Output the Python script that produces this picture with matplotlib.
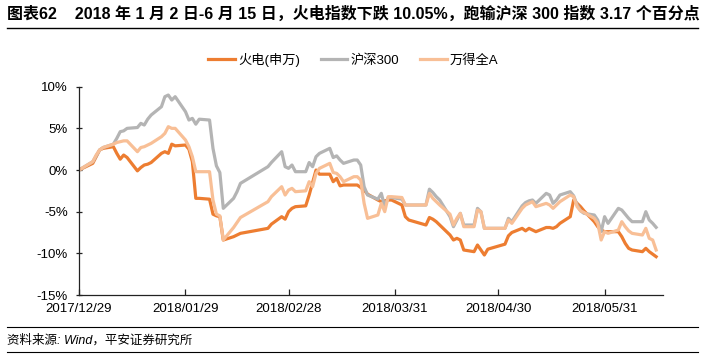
import pandas as pd
import matplotlib
matplotlib.use('Agg')
import matplotlib.pyplot as plt
from matplotlib.lines import Line2D
from matplotlib.ticker import FuncFormatter

plt.rcParams['font.family'] = ['Liberation Sans', 'Noto Sans CJK SC']

# 交易日 (2017/12/29 为基期)
dates = [
    '2017-12-29',
    '2018-01-02', '2018-01-03', '2018-01-04', '2018-01-05', '2018-01-08', '2018-01-09',
    '2018-01-10', '2018-01-11', '2018-01-12', '2018-01-15', '2018-01-16', '2018-01-17',
    '2018-01-18', '2018-01-19', '2018-01-22', '2018-01-23', '2018-01-24', '2018-01-25',
    '2018-01-26', '2018-01-29', '2018-01-30', '2018-01-31',
    '2018-02-01', '2018-02-02', '2018-02-05', '2018-02-06', '2018-02-07', '2018-02-08',
    '2018-02-09', '2018-02-12', '2018-02-13', '2018-02-14', '2018-02-22', '2018-02-23',
    '2018-02-26', '2018-02-27', '2018-02-28',
    '2018-03-01', '2018-03-02', '2018-03-05', '2018-03-06', '2018-03-07', '2018-03-08',
    '2018-03-09', '2018-03-12', '2018-03-13', '2018-03-14', '2018-03-15', '2018-03-16',
    '2018-03-19', '2018-03-20', '2018-03-21', '2018-03-22', '2018-03-23', '2018-03-26',
    '2018-03-27', '2018-03-28', '2018-03-29', '2018-03-30',
    '2018-04-02', '2018-04-03', '2018-04-04', '2018-04-09', '2018-04-10', '2018-04-11',
    '2018-04-12', '2018-04-13', '2018-04-16', '2018-04-17', '2018-04-18', '2018-04-19',
    '2018-04-20', '2018-04-23', '2018-04-24', '2018-04-25', '2018-04-26', '2018-04-27',
    '2018-05-02', '2018-05-03', '2018-05-04', '2018-05-07', '2018-05-08', '2018-05-09',
    '2018-05-10', '2018-05-11', '2018-05-14', '2018-05-15', '2018-05-16', '2018-05-17',
    '2018-05-18', '2018-05-21', '2018-05-22', '2018-05-23', '2018-05-24', '2018-05-25',
    '2018-05-28', '2018-05-29', '2018-05-30', '2018-05-31',
    '2018-06-01', '2018-06-04', '2018-06-05', '2018-06-06', '2018-06-07', '2018-06-08',
    '2018-06-11', '2018-06-12', '2018-06-13', '2018-06-14', '2018-06-15',
]

# 累计涨跌幅 (%)
huodian = [
    0,
    0.8, 1.6, 2.4, 2.6, 2.8, 2.0, 1.3, 1.8, 1.5, -0.1, 0.3, 0.6, 0.7, 0.9, 2.0, 2.2, 2.0, 3.1,
    2.9, 3.0, 2.5, 1.0,
    -3.4, -3.4, -3.5, -5.3, -5.5, -5.6, -8.4, -8.0, -7.8, -7.6, -7.0, -6.5, -5.6, -5.9, -5.0,
    -4.6, -4.4, -4.3, -3.0, -1.5, 0.0, -0.5, -0.5, -1.4, -1.0, -1.9, -1.8, -1.8, -1.8, -2.1,
    -2.4, -2.9, -3.6, -3.8, -3.7, -3.6, -3.6,
    -4.2, -5.6, -6.0, -6.6, -5.7, -5.9, -6.2, -6.6, -7.8, -8.4, -8.2, -8.4, -9.6, -9.8, -9.0,
    -9.6, -10.2, -9.5,
    -8.9, -7.9, -7.5, -7.0, -7.3, -7.0, -7.2, -7.4, -6.9, -6.9, -7.0, -6.8, -6.4, -5.6, -3.6,
    -4.0, -4.4, -4.9, -6.2, -6.8, -7.2, -7.4,
    -7.4, -7.4, -8.0, -8.8, -9.4, -9.6, -9.8, -9.4, -9.8, -10.1, -10.4,
]

hs300 = [
    0,
    1.0, 1.7, 2.4, 2.7, 3.1, 3.8, 4.6, 4.7, 5.0, 5.1, 5.6, 5.4, 6.1, 6.6, 7.6, 8.8, 9.0, 8.4,
    8.8, 7.0, 6.0, 6.2,
    5.5, 6.1, 6.0, 2.6, 0.5, -0.3, -4.6, -3.4, -2.6, -1.6, 0.4, 0.9, 2.2, 0.4, 0.2,
    0.6, -0.2, -0.2, 0.9, 0.4, 1.6, 2.0, 2.6, 1.5, 1.7, 1.2, 0.8, 1.2, 1.2, 0.6,
    -2.0, -3.0, -3.5, -2.8, -4.4, -3.3, -3.3,
    -3.5, -4.2, -4.2, -4.2, -2.3, -2.7, -3.2, -3.6, -5.6, -6.8, -6.0, -5.2, -6.6, -6.6, -4.6,
    -5.0, -7.0, -7.0,
    -7.0, -5.8, -6.2, -4.3, -3.9, -3.7, -3.6, -4.0, -2.8, -3.0, -4.0, -3.6, -3.0, -2.6, -3.1,
    -4.2, -4.9, -5.2, -5.4, -6.0, -7.4, -5.6,
    -6.4, -4.6, -4.8, -5.3, -5.8, -6.2, -6.2, -5.0, -6.0, -6.4, -6.88,
]

wind_a = [
    0,
    1.0, 1.8, 2.4, 2.7, 3.1, 3.3, 3.4, 3.5, 3.5, 2.2, 2.7, 2.8, 3.0, 3.2, 4.0, 4.4, 5.2, 5.0,
    5.0, 3.6, 2.8, 1.6,
    -0.2, -0.2, -0.2, -3.6, -5.3, -5.5, -8.4, -6.9, -6.3, -5.7, -3.8, -3.2, -2.0, -3.0, -2.4,
    -2.2, -2.6, -2.5, -1.4, -2.0, -0.4, 0.2, 0.8, -0.3, -0.4, -0.8, -1.4, -0.8, -0.8, -1.2,
    -4.0, -5.8, -5.4, -4.0, -5.0, -3.2, -3.2,
    -3.3, -4.2, -4.2, -4.2, -2.8, -3.4, -3.8, -4.2, -5.3, -6.6, -5.8, -5.2, -6.8, -6.8, -4.8,
    -5.0, -7.0, -7.0,
    -7.0, -6.0, -6.4, -4.6, -4.2, -4.0, -3.8, -4.4, -4.0, -4.2, -4.6, -4.2, -3.8, -3.0, -3.2,
    -4.4, -4.9, -5.1, -5.8, -6.4, -8.4, -7.4,
    -7.6, -7.2, -6.2, -6.8, -7.3, -7.6, -7.8, -7.0, -8.2, -8.4, -9.6,
]

tick_dates = ['2017-12-29', '2018-01-29', '2018-02-28', '2018-03-31', '2018-04-30', '2018-05-31']

x = pd.to_datetime(dates)

W, H = 711, 354
fig = plt.figure(figsize=(W / 100, H / 100), dpi=100)
ax = fig.add_axes([79 / W, 1 - 295 / H, (663 - 79) / W, (295 - 86.7) / H])

ax.plot(x, huodian, color='#ED7D31', lw=2.3, label='火电(申万)')
ax.plot(x, hs300, color='#B4B4B4', lw=2.3, label='沪深300')
ax.plot(x, wind_a, color='#F8BF96', lw=2.3, label='万得全A')

ax.set_ylim(-15, 10)
ax.set_yticks(range(-15, 11, 5))
ax.yaxis.set_major_formatter(FuncFormatter(lambda v, p: f'{v:.0f}%'))
ax.set_xlim(pd.Timestamp('2017-12-29'), pd.Timestamp('2018-06-17'))
ax.set_xticks(pd.to_datetime(tick_dates))
ax.set_xticklabels([d.replace('-', '/') for d in tick_dates])

for s in ['top', 'right']:
    ax.spines[s].set_visible(False)
for s in ['left', 'bottom']:
    ax.spines[s].set_color('#222222')
    ax.spines[s].set_linewidth(0.9)
ax.tick_params(axis='y', direction='inout', length=4, width=0.9, pad=6, labelsize=9.5, colors='#222222')
ax.tick_params(axis='x', direction='in', length=4, width=0.9, pad=6, labelsize=9.5, colors='#222222')
ax.tick_params(labelcolor='black')

fig.legend(loc='center', bbox_to_anchor=(0.497, 1 - 60 / H), ncol=3, frameon=False,
           fontsize=9.5, handlelength=2.0, columnspacing=1.6, handletextpad=0.25)

# 标题与来源
fig.text(7 / W, 1 - 14 / H,
         '图表62    2018 年 1 月 2 日-6 月 15 日，火电指数下跌 10.05%，跑输沪深 300 指数 3.17 个百分点',
         fontsize=11.5, fontweight='bold', va='center', ha='left')
fig.add_artist(Line2D([7 / W, 698 / W], [1 - 28 / H, 1 - 28 / H], color='black', lw=1.0))
fig.add_artist(Line2D([7 / W, 698 / W], [1 - 327 / H, 1 - 327 / H], color='black', lw=0.8))
fig.add_artist(Line2D([7 / W, 698 / W], [1 - 352 / H, 1 - 352 / H], color='black', lw=0.8))
fig.text(7 / W, 1 - 340 / H, '资料来源: Wind，平安证券研究所', fontsize=9, style='italic',
         va='center', ha='left')

fig.savefig('out.png', dpi=100)
